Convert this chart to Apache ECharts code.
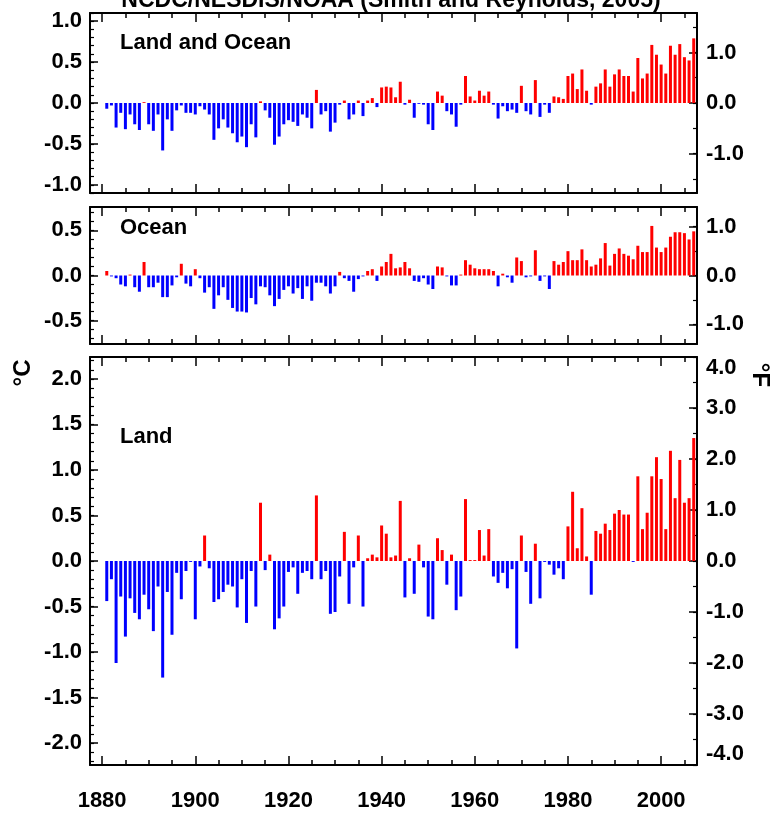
<!DOCTYPE html>
<html><head><meta charset="utf-8">
<script src="https://cdn.jsdelivr.net/npm/echarts@6/dist/echarts.min.js"></script>
<style>html,body{margin:0;padding:0;background:#fff}#c{width:774px;height:816px}</style>
</head><body><div id="c"></div>
<script>
// ---------- data ----------
const firstYear = 1881, lastYear = 2007;
const years = [];
for (let y = firstYear; y <= lastYear; y++) years.push(y);

const landOcean = [
 -0.07,-0.03,-0.30,-0.12,-0.32,-0.14,-0.26,-0.33,0.01,-0.26,
 -0.34,-0.14,-0.58,-0.20,-0.34,-0.09,-0.03,-0.12,-0.12,-0.14,
 -0.04,-0.08,-0.14,-0.45,-0.31,-0.20,-0.30,-0.37,-0.48,-0.41,
 -0.54,-0.26,-0.42,0.02,-0.09,-0.18,-0.51,-0.41,-0.26,-0.21,
 -0.23,-0.28,-0.14,-0.18,-0.31,0.16,-0.14,-0.10,-0.35,-0.24,
 -0.02,0.03,-0.20,-0.14,0.03,-0.16,0.03,0.06,-0.05,0.19,
 0.20,0.19,0.07,0.26,-0.02,0.04,-0.18,-0.01,-0.02,-0.26,
 -0.33,0.14,0.09,-0.10,-0.14,-0.29,-0.02,0.33,0.08,0.03,
 0.15,0.09,0.14,-0.02,-0.19,-0.04,-0.10,-0.08,-0.12,0.21,
 -0.10,-0.14,0.28,-0.17,-0.02,-0.12,0.08,0.07,0.05,0.33,
 0.36,0.17,0.41,0.15,-0.02,0.20,0.24,0.41,0.20,0.35,
 0.41,0.33,0.33,0.14,0.55,0.30,0.36,0.71,0.59,0.47,
 0.36,0.70,0.59,0.72,0.56,0.52,0.79
];
const ocean = [
 0.05,-0.01,-0.03,-0.10,-0.12,0.01,-0.13,-0.18,0.15,-0.13,
 -0.13,-0.08,-0.24,-0.24,-0.11,-0.02,0.13,-0.09,-0.12,0.07,
 -0.03,-0.19,-0.13,-0.37,-0.22,-0.13,-0.27,-0.36,-0.40,-0.40,
 -0.41,-0.25,-0.32,-0.12,-0.13,-0.22,-0.34,-0.26,-0.16,-0.12,
 -0.20,-0.14,-0.26,-0.12,-0.28,-0.08,-0.08,-0.12,-0.20,-0.12,
 0.04,-0.03,-0.06,-0.18,-0.04,-0.01,0.05,0.07,-0.06,0.10,
 0.15,0.24,0.08,0.09,0.15,0.08,-0.06,-0.07,-0.03,-0.10,
 -0.15,0.10,0.09,-0.01,-0.11,-0.11,0.01,0.17,0.12,0.08,
 0.07,0.07,0.07,0.05,-0.12,0.02,-0.02,-0.08,0.20,0.16,
 -0.02,-0.01,0.28,-0.06,-0.01,-0.15,0.16,0.12,0.15,0.27,
 0.17,0.17,0.29,0.17,0.10,0.12,0.19,0.36,0.11,0.24,
 0.30,0.24,0.22,0.18,0.33,0.26,0.26,0.55,0.31,0.26,
 0.31,0.43,0.48,0.48,0.47,0.40,0.49
];
const land = [
 -0.44,-0.20,-1.12,-0.39,-0.83,-0.41,-0.57,-0.64,-0.37,-0.53,
 -0.77,-0.28,-1.28,-0.34,-0.81,-0.13,-0.42,-0.11,-0.01,-0.64,
 -0.06,0.28,-0.08,-0.45,-0.42,-0.34,-0.26,-0.28,-0.51,-0.20,
 -0.68,-0.11,-0.50,0.64,-0.10,0.07,-0.75,-0.63,-0.50,-0.12,
 -0.07,-0.36,-0.13,-0.11,-0.20,0.72,-0.20,-0.11,-0.58,-0.56,
 -0.17,0.32,-0.47,-0.07,0.28,-0.50,0.03,0.07,0.04,0.39,
 0.30,0.04,0.06,0.66,-0.40,0.03,-0.36,0.18,-0.07,-0.61,
 -0.64,0.25,0.12,-0.26,0.07,-0.54,-0.39,0.68,0.01,0.01,
 0.34,0.06,0.35,-0.17,-0.24,-0.13,-0.30,-0.09,-0.96,0.28,
 -0.12,-0.47,0.19,-0.41,-0.01,-0.04,-0.15,-0.08,-0.20,0.38,
 0.76,0.14,0.58,0.05,-0.37,0.33,0.30,0.41,0.34,0.52,
 0.56,0.51,0.51,-0.01,0.93,0.35,0.53,0.93,1.14,0.90,
 0.35,1.21,0.69,1.11,0.64,0.69,1.35
];

// tick labels
const xLabels = [1880,1900,1920,1940,1960,1980,2000];
const loCLabels = [-1.0,-0.5,0.0,0.5,1.0];
const loFLabels = [-1.0,0.0,1.0];
const ocCLabels = [-0.5,0.0,0.5];
const ocFLabels = [-1.0,0.0,1.0];
const lnCLabels = [-2.0,-1.5,-1.0,-0.5,0.0,0.5,1.0,1.5,2.0];
const lnFLabels = [-4.0,-3.0,-2.0,-1.0,0.0,1.0,2.0,3.0,4.0];

const titleText = 'NCDC/NESDIS/NOAA (Smith and Reynolds, 2005)';
const panelNames = ['Land and Ocean', 'Ocean', 'Land'];

// ---------- helpers ----------
function steps(a, b, s) {
  const out = [];
  const n = Math.round((b - a) / s);
  for (let i = 0; i <= n; i++) out.push(Math.round((a + i * s) * 1000) / 1000);
  return out;
}
const xMinor = steps(1880, 2005, 5);
const FONT = '"Liberation Sans", Arial, Helvetica, sans-serif';
const BLACK = '#000';
const XMIN = 1877.4, XMAX = 2007.7;

const grids = [
  {left: 90, right: 77, top: 13, height: 180},
  {left: 90, right: 77, top: 207, height: 137},
  {left: 90, right: 77, top: 357, height: 408}
];
const panels = [
  {data: landOcean, cRange: 1.10, fRange: 1.78, cLabels: loCLabels, fLabels: loFLabels, cMinor: steps(-1.1, 1.1, 0.1), fMinor: steps(-1.5, 1.5, 0.5), edgeAlign: false},
  {data: ocean, cRange: 0.76, fRange: 1.40, cLabels: ocCLabels, fLabels: ocFLabels, cMinor: steps(-0.7, 0.7, 0.1), fMinor: steps(-1.0, 1.0, 0.5), edgeAlign: false},
  {data: land, cRange: 2.24, fRange: 4.00, cLabels: lnCLabels, fLabels: lnFLabels, cMinor: steps(-2.2, 2.2, 0.1), fMinor: steps(-4.0, 4.0, 0.5), edgeAlign: true}
];

const labelStyle = {color: BLACK, fontFamily: FONT, fontWeight: 'bold', fontSize: 22};

const xAxis = [], yAxis = [], series = [];
panels.forEach((p, g) => {
  const showX = g === 2;
  ['bottom', 'top'].forEach(pos => {
    xAxis.push({
      type: 'value', gridIndex: g, position: pos, min: XMIN, max: XMAX,
      axisLine: {show: true, onZero: false, lineStyle: {color: BLACK, width: 2}},
      axisTick: {show: true, inside: true, length: 9, customValues: xLabels, lineStyle: {color: BLACK, width: 1.5}},
      axisLabel: Object.assign({show: showX && pos === 'bottom', customValues: xLabels, margin: 25, formatter: v => String(v)}, labelStyle),
      splitLine: {show: false}
    });
    xAxis.push({
      type: 'value', gridIndex: g, position: pos, min: XMIN, max: XMAX,
      axisLine: {show: false, onZero: false},
      axisTick: {show: true, inside: true, length: 5, customValues: xMinor, lineStyle: {color: BLACK, width: 1.5}},
      axisLabel: {show: false},
      splitLine: {show: false}
    });
  });
  const yBase = yAxis.length;
  yAxis.push({
    type: 'value', gridIndex: g, position: 'left', min: -p.cRange, max: p.cRange,
    axisLine: {show: true, onZero: false, lineStyle: {color: BLACK, width: 2}},
    axisTick: {show: true, inside: true, length: 8, customValues: p.cLabels, lineStyle: {color: BLACK, width: 1.5}},
    axisLabel: Object.assign({show: true, customValues: p.cLabels, margin: 8, formatter: v => Number(v).toFixed(1)}, labelStyle),
    splitLine: {show: false}
  });
  yAxis.push({
    type: 'value', gridIndex: g, position: 'left', min: -p.cRange, max: p.cRange,
    axisLine: {show: false, onZero: false},
    axisTick: {show: true, inside: true, length: 4, customValues: p.cMinor, lineStyle: {color: BLACK, width: 1.2}},
    axisLabel: {show: false}, splitLine: {show: false}
  });
  const rightLabel = Object.assign({show: true, customValues: p.fLabels, margin: 9,
      formatter: v => Number(v).toFixed(1)}, labelStyle);
  if (p.edgeAlign) {
    rightLabel.verticalAlignMinLabel = 'bottom';
    rightLabel.verticalAlignMaxLabel = 'top';
  }
  yAxis.push({
    type: 'value', gridIndex: g, position: 'right', min: -p.fRange, max: p.fRange,
    axisLine: {show: true, onZero: false, lineStyle: {color: BLACK, width: 2}},
    axisTick: {show: true, inside: true, length: 8, customValues: p.fLabels, lineStyle: {color: BLACK, width: 1.5}},
    axisLabel: rightLabel,
    splitLine: {show: false}
  });
  yAxis.push({
    type: 'value', gridIndex: g, position: 'right', min: -p.fRange, max: p.fRange,
    axisLine: {show: false, onZero: false},
    axisTick: {show: true, inside: true, length: 4, customValues: p.fMinor, lineStyle: {color: BLACK, width: 1.2}},
    axisLabel: {show: false}, splitLine: {show: false}
  });
  series.push({
    type: 'bar', xAxisIndex: g * 4, yAxisIndex: yBase, barWidth: 3, silent: true,
    data: years.map((y, i) => [y, p.data[i]]),
    itemStyle: {color: params => (params.value[1] >= 0 ? '#ff0000' : '#0000ff')}
  });
});

const textStyle = (text, size) => ({text, font: 'bold ' + size + 'px ' + FONT, fill: BLACK,
  textAlign: 'left', textVerticalAlign: 'middle', align: 'left', verticalAlign: 'middle'});

const graphic = [
  {type: 'text', x: 391, y: 12, style: Object.assign(textStyle(titleText, 23), {textAlign: 'center', align: 'center', textVerticalAlign: 'bottom', verticalAlign: 'bottom'})},
  {type: 'text', x: 120, y: 43, style: textStyle(panelNames[0], 22)},
  {type: 'text', x: 120, y: 228, style: textStyle(panelNames[1], 22)},
  {type: 'text', x: 120, y: 437, style: textStyle(panelNames[2], 22)},
  {type: 'text', x: 23, y: 373, rotation: Math.PI / 2, style: Object.assign(textStyle('°C', 24), {textAlign: 'center', align: 'center'})},
  {type: 'text', x: 760, y: 375, rotation: -Math.PI / 2, style: Object.assign(textStyle('°F', 24), {textAlign: 'center', align: 'center'})}
];

const chart = echarts.init(document.getElementById('c'), null, {renderer: 'canvas'});
chart.setOption({
  backgroundColor: '#fff',
  animation: false,
  grid: grids,
  xAxis, yAxis, series, graphic
});
</script></body></html>
